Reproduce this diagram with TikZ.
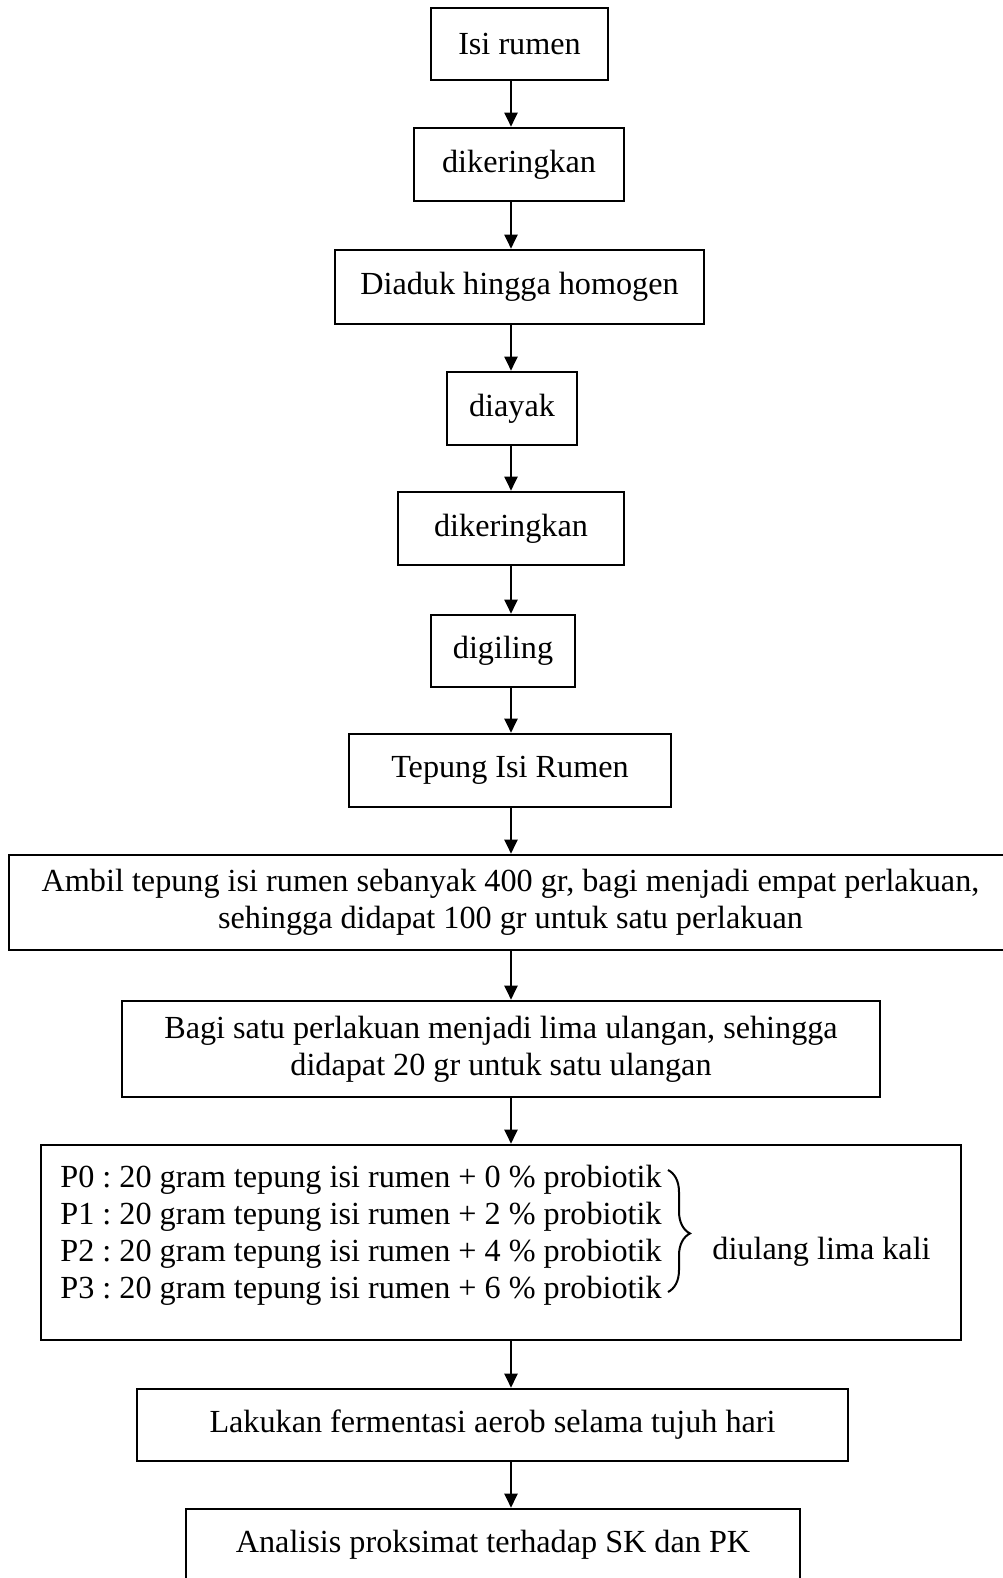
\documentclass[tikz,border=0pt]{standalone}
\usepackage{fontspec}
\setmainfont{Liberation Serif}
\usepackage{tikz}
\usetikzlibrary{arrows.meta,decorations.pathreplacing}
\frenchspacing

\begin{document}
\begin{tikzpicture}[x=0.5pt,y=-0.5pt,
  kotak/.style={draw, line width=1.3pt, inner sep=0pt, align=center,
    font=\fontsize{16.1}{18.5}\selectfont},
  teks/.style={inner sep=0pt, font=\fontsize{16.1}{18.5}\selectfont},
  panah/.style={-{Triangle[length=7pt,width=6.5pt]}, line width=1pt}]
\def\ax{511} %x of the arrows%
\useasboundingbox (0,0) rectangle (1002,1578);
\coordinate (S) at (\ax,0);

% the steps %
\node[kotak, minimum width=88.5pt, minimum height=36pt] (isi) at (519.5,44) {Isi rumen};
\node[kotak, minimum width=105pt, minimum height=36.5pt] (kering) at (519,164.5) {dikeringkan};
\node[kotak, minimum width=184.5pt, minimum height=37pt] (aduk) at (519.5,287) {Diaduk hingga homogen};
\node[kotak, minimum width=65pt, minimum height=36.5pt] (ayak) at (512,408.5) {diayak};
\node[kotak, minimum width=113pt, minimum height=36.5pt] (keringdua) at (511,528.5) {dikeringkan};
\node[kotak, minimum width=72pt, minimum height=36pt] (giling) at (503,651) {digiling};
\node[kotak, minimum width=161pt, minimum height=36.5pt] (tepung) at (510,770.5) {Tepung Isi Rumen};
\node[kotak, minimum width=501.5pt, minimum height=47.5pt] (ambil) at (510.5,902.5)
  {Ambil tepung isi rumen sebanyak 400 gr, bagi menjadi empat perlakuan,\\
   sehingga didapat 100 gr untuk satu perlakuan};
\node[kotak, minimum width=379pt, minimum height=48pt] (bagi) at (501,1049)
  {Bagi satu perlakuan menjadi lima ulangan, sehingga\\
   didapat 20 gr untuk satu ulangan};
\node[kotak, minimum width=460pt, minimum height=97.5pt] (perlakuan) at (501,1242.5) {};
\node[kotak, minimum width=355.5pt, minimum height=36pt] (fermentasi) at (492.5,1425)
  {Lakukan fermentasi aerob selama tujuh hari};
\node[kotak, minimum width=307pt, minimum height=36pt] (analisis) at (493,1545)
  {Analisis proksimat terhadap SK dan PK};

% the four treatments %
\node[teks, anchor=west, align=left] (daftar) at (60,1235)
  {P0 : 20 gram tepung isi rumen + 0 \% probiotik\\
   P1 : 20 gram tepung isi rumen + 2 \% probiotik\\
   P2 : 20 gram tepung isi rumen + 4 \% probiotik\\
   P3 : 20 gram tepung isi rumen + 6 \% probiotik};
\draw[line width=1pt, decorate, decoration={brace, amplitude=11pt, aspect=0.52}]
  (668,1170) -- (668,1292);
\node[teks, anchor=west] (ulang) at (712,1252) {diulang lima kali};

% arrows %
\foreach \a/\b in {isi/kering, kering/aduk, aduk/ayak, ayak/keringdua,
  keringdua/giling, giling/tepung, tepung/ambil, ambil/bagi, bagi/perlakuan,
  perlakuan/fermentasi, fermentasi/analisis}
  \draw[panah] (\a.south -| S) -- (\b.north -| S);

\end{tikzpicture}
\end{document}
